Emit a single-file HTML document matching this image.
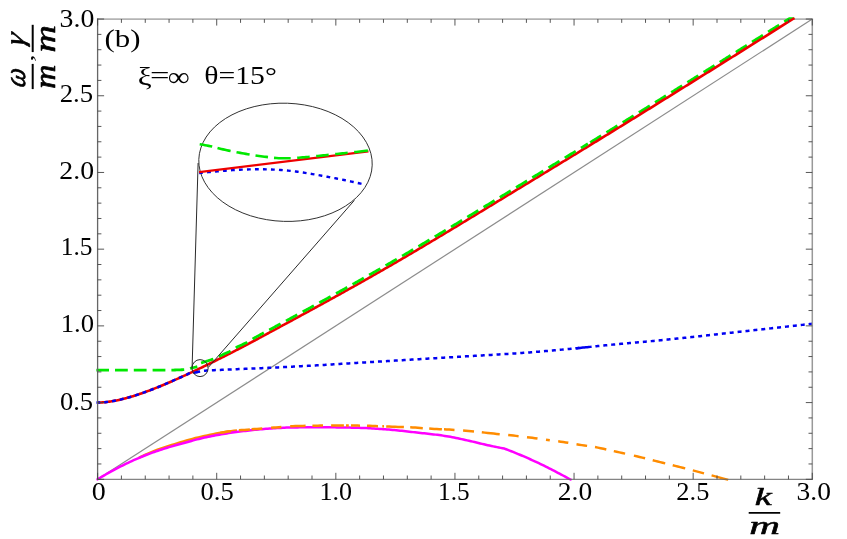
<!DOCTYPE html>
<html><head><meta charset="utf-8"><title>plot</title>
<style>
html,body{margin:0;padding:0;background:#fff;}
svg{display:block;}
text{font-family:"Liberation Serif",serif;fill:#000;}
.tl text{font-size:25px;}
.bi{font-family:"Liberation Serif",serif;font-weight:bold;font-style:italic;}
</style></head><body>
<svg width="847" height="539" viewBox="0 0 847 539">
<rect width="847" height="539" fill="#fff"/>
<defs><clipPath id="cp"><rect x="96.19999999999999" y="17.2" width="717.0999999999999" height="463.6"/></clipPath></defs>
<!-- frame (top/right, under curves) -->
<path d="M97.6,19.05 H813.0999999999999" stroke="#b4b4b4" stroke-width="1.7" fill="none"/>
<!-- light cone -->
<path d="M97.6,479.3 L812.3,19.05" stroke="#8c8c8c" stroke-width="1.2" fill="none"/>
<!-- curves -->
<g clip-path="url(#cp)" fill="none" stroke-linejoin="round">
<path d="M139.00,457.69 L141.97,456.28 L144.94,454.93 L147.91,453.62 L150.88,452.37 L153.85,451.16 L156.82,450.00 L159.79,448.90 L162.76,447.86 L165.73,446.87 L168.70,445.92 L171.67,444.99 L174.64,444.09 L177.61,443.19 L180.58,442.29 L183.55,441.39 L186.52,440.51 L189.48,439.66 L192.45,438.85 L195.42,438.07 L198.39,437.35 L201.36,436.69 L204.33,436.04 L207.30,435.41 L210.27,434.79 L213.24,434.18 L216.21,433.60 L219.18,433.05 L222.15,432.53 L225.12,432.04 L228.09,431.58 L231.06,431.17 L234.03,430.80 L237.00,430.48" stroke="#ff8c00" stroke-width="2.5"/>
<path d="M96.40,479.96 L98.26,478.90 L100.13,477.77 L101.99,476.66 L103.85,475.56 L105.72,474.48 L107.58,473.42 L109.44,472.37 L111.30,471.34 L113.17,470.32 L115.03,469.33 L116.89,468.35 L118.76,467.38 L120.62,466.44 L122.48,465.51 L124.35,464.60 L126.21,463.70 L128.07,462.81 L129.93,461.93 L131.80,461.07 L133.66,460.22 L135.52,459.39 L137.39,458.58 L139.25,457.78 L141.11,457.00 L142.98,456.24 L144.84,455.50 L146.70,454.78 L148.56,454.07 L150.43,453.38 L152.29,452.70 L154.15,452.03 L156.02,451.38 L157.88,450.74 L159.74,450.11 L161.61,449.50 L163.47,448.89 L165.33,448.30 L167.19,447.72 L169.06,447.15 L170.92,446.60 L172.78,446.08 L174.65,445.57 L176.51,445.07 L178.37,444.57 L180.24,444.06 L182.10,443.55 L183.96,443.03 L185.82,442.50 L187.69,441.97 L189.55,441.45 L191.41,440.93 L193.28,440.41 L195.14,439.90 L197.00,439.41 L198.87,438.93 L200.73,438.46 L202.59,438.01 L204.45,437.58 L206.32,437.18 L208.18,436.80 L210.04,436.42 L211.91,436.05 L213.77,435.69 L215.63,435.34 L217.50,435.00 L219.36,434.67 L221.22,434.34 L223.08,434.02 L224.95,433.72 L226.81,433.42 L228.67,433.13 L230.54,432.85 L232.40,432.58 L234.26,432.32 L236.13,432.06 L237.99,431.82 L239.85,431.58 L241.72,431.35 L243.58,431.12 L245.44,430.89 L247.30,430.67 L249.17,430.45 L251.03,430.24 L252.89,430.04 L254.76,429.84 L256.62,429.66 L258.48,429.48 L260.35,429.31 L262.21,429.15 L264.07,429.00 L265.93,428.87 L267.80,428.74 L269.66,428.61 L271.52,428.49 L273.39,428.36 L275.25,428.24 L277.11,428.12 L278.98,428.00 L280.84,427.89 L282.70,427.79 L284.56,427.70 L286.43,427.62 L288.29,427.54 L290.15,427.48 L292.02,427.44 L293.88,427.41 L295.74,427.40 L297.61,427.38 L299.47,427.37 L301.33,427.36 L303.19,427.35 L305.06,427.35 L306.92,427.34 L308.78,427.33 L310.65,427.32 L312.51,427.32 L314.37,427.31 L316.24,427.31 L318.10,427.31 L319.96,427.30 L321.82,427.30 L323.69,427.30 L325.55,427.30 L327.41,427.30 L329.28,427.31 L331.14,427.32 L333.00,427.34 L334.87,427.35 L336.73,427.38 L338.59,427.40 L340.45,427.43 L342.32,427.46 L344.18,427.49 L346.04,427.52 L347.91,427.56 L349.77,427.59 L351.63,427.63 L353.50,427.67 L355.36,427.71 L357.22,427.75 L359.08,427.81 L360.95,427.88 L362.81,427.95 L364.67,428.03 L366.54,428.12 L368.40,428.22 L370.26,428.32 L372.13,428.43 L373.99,428.55 L375.85,428.66 L377.72,428.78 L379.58,428.91 L381.44,429.03 L383.30,429.16 L385.17,429.29 L387.03,429.43 L388.89,429.58 L390.76,429.74 L392.62,429.91 L394.48,430.08 L396.35,430.27 L398.21,430.46 L400.07,430.66 L401.93,430.86 L403.80,431.07 L405.66,431.28 L407.52,431.49 L409.39,431.70 L411.25,431.91 L413.11,432.12 L414.98,432.33 L416.84,432.53 L418.70,432.73 L420.56,432.93 L422.43,433.14 L424.29,433.34 L426.15,433.54 L428.02,433.75 L429.88,433.96 L431.74,434.18 L433.61,434.40 L435.47,434.63 L437.33,434.86 L439.19,435.11 L441.06,435.36 L442.92,435.63 L444.78,435.91 L446.65,436.20 L448.51,436.51 L450.37,436.85 L452.24,437.20 L454.10,437.56 L455.96,437.94 L457.82,438.33 L459.69,438.73 L461.55,439.13 L463.41,439.54 L465.28,439.96 L467.14,440.37 L469.00,440.78 L470.87,441.19 L472.73,441.62 L474.59,442.06 L476.45,442.51 L478.32,442.97 L480.18,443.42 L482.04,443.87 L483.91,444.32 L485.77,444.75 L487.63,445.16 L489.50,445.57 L491.36,445.97 L493.22,446.36 L495.08,446.75 L496.95,447.13 L498.81,447.51 L500.67,447.88 L502.54,448.24 L504.40,448.60 L506.12,449.25 L507.85,449.91 L509.57,450.58 L511.29,451.25 L513.02,451.94 L514.74,452.63 L516.46,453.33 L518.18,454.04 L519.91,454.76 L521.63,455.49 L523.35,456.22 L525.08,456.96 L526.80,457.71 L528.52,458.48 L530.25,459.25 L531.97,460.03 L533.69,460.81 L535.42,461.61 L537.14,462.42 L538.86,463.23 L540.58,464.05 L542.31,464.89 L544.03,465.74 L545.75,466.59 L547.48,467.46 L549.20,468.33 L550.92,469.21 L552.65,470.10 L554.37,470.98 L556.09,471.88 L557.82,472.78 L559.54,473.68 L561.26,474.59 L562.98,475.51 L564.71,476.44 L566.43,477.37 L568.15,478.31 L569.88,479.25 L571.60,480.20" stroke="#ff00ff" stroke-width="2.5"/>
<path d="M220.10,432.88 L222.82,432.41 L225.55,431.97 L228.28,431.55 L231.00,431.18 M238.90,430.31 L241.65,430.10 L244.40,429.88 L247.15,429.66 L249.90,429.44 M251.60,429.30 L254.28,429.09 L256.95,428.88 L259.62,428.67 L262.30,428.46 M271.10,427.78 L273.68,427.58 L276.25,427.39 L278.82,427.18 L281.40,426.96 M290.20,426.31 L292.77,426.20 L295.33,426.12 L297.90,426.04 L300.47,425.97 L303.03,425.90 L305.60,425.84 M312.40,425.71 L315.05,425.67 L317.70,425.64 L320.35,425.62 L323.00,425.60 M331.10,425.60 L333.66,425.60 L336.22,425.60 L338.78,425.60 L341.34,425.60 L343.90,425.60 M346.00,425.60 L347.40,425.60 L348.80,425.60 M351.00,425.60 L353.25,425.60 L355.50,425.60 L357.75,425.61 L360.00,425.63 M367.00,425.78 L369.75,425.86 L372.50,425.95 L375.25,426.04 L378.00,426.15 M382.30,426.32 L383.15,426.36 L384.00,426.39 M386.20,426.48 L389.15,426.60 L392.10,426.71 L395.05,426.81 L398.00,426.91 L400.95,427.01 L403.90,427.12 M410.20,427.37 L412.72,427.49 L415.24,427.62 L417.76,427.77 L420.28,427.95 L422.80,428.13 M429.20,428.61 L431.74,428.78 L434.28,428.93 L436.82,429.07 L439.36,429.18 L441.90,429.28 M444.00,429.36 L446.62,429.47 L449.25,429.60 L451.88,429.74 L454.50,429.89 M463.10,430.48 L465.83,430.68 L468.55,430.90 L471.27,431.15 L474.00,431.42 M481.80,432.29 L484.78,432.63 L487.77,432.97 L490.75,433.29 L493.73,433.60 L496.72,433.90 L499.70,434.20 M508.20,435.04 L510.80,435.31 L513.40,435.59 L516.00,435.87 L518.60,436.16 M527.00,437.14 L529.62,437.46 L532.25,437.79 L534.88,438.15 L537.50,438.53 M546.00,439.79 L547.90,440.05 L549.80,440.30 M558.20,441.33 L560.73,441.65 L563.25,442.01 L565.77,442.40 L568.30,442.83 M576.50,444.29 L579.15,444.72 L581.80,445.12 L584.45,445.50 L587.10,445.87 M595.00,447.10 L597.83,447.62 L600.65,448.19 L603.47,448.80 L606.30,449.42 M613.80,451.12 L616.62,451.75 L619.45,452.37 L622.27,453.00 L625.10,453.63 M633.90,455.64 L636.70,456.30 L639.50,456.96 L642.30,457.63 L645.10,458.32 M652.70,460.22 L655.20,460.86 L657.70,461.50 L660.20,462.13 L662.70,462.77 L665.20,463.40 M672.70,465.27 L675.20,465.90 L677.70,466.52 L680.20,467.14 L682.70,467.77 L685.20,468.40 M692.80,470.36 L695.60,471.10 L698.40,471.85 L701.20,472.59 L704.00,473.35 M711.60,475.40 L714.37,476.15 L717.13,476.89 L719.90,477.64 L722.67,478.39 L725.43,479.15 L728.20,479.90" stroke="#ff8c00" stroke-width="2.5"/>
<path d="M590.20,142.51 L591.25,141.87 L592.31,141.22 L593.36,140.58 L594.42,139.93 L595.47,139.28 L596.53,138.64 L597.58,137.99 L598.63,137.35 L599.69,136.70 L600.74,136.05 L601.80,135.41 L602.85,134.76 L603.91,134.11 L604.96,133.47 L606.01,132.82 L607.07,132.17 L608.12,131.52 L609.18,130.88 L610.23,130.23 L611.29,129.58 L612.34,128.93 L613.39,128.29 L614.45,127.64 L615.50,126.99 L616.56,126.34 L617.61,125.69 L618.67,125.04 L619.72,124.39 L620.77,123.75 L621.83,123.10 L622.88,122.45 L623.94,121.80 L624.99,121.15 L626.05,120.50 L627.10,119.85 L628.15,119.20 L629.21,118.55 L630.26,117.90 L631.32,117.25 L632.37,116.60 L633.43,115.94 L634.48,115.29 L635.53,114.64 L636.59,113.99 L637.64,113.34 L638.70,112.69 L639.75,112.04 L640.81,111.38 L641.86,110.73 L642.91,110.08 L643.97,109.43 L645.02,108.77 L646.08,108.12 L647.13,107.47 L648.18,106.82 L649.24,106.16 L650.29,105.51 L651.35,104.86 L652.40,104.20 L653.46,103.55 L654.51,102.90 L655.56,102.24 L656.62,101.59 L657.67,100.93 L658.73,100.28 L659.78,99.63 L660.84,98.97 L661.89,98.32 L662.94,97.66 L664.00,97.01 L665.05,96.35 L666.11,95.70 L667.16,95.04 L668.22,94.39 L669.27,93.73 L670.32,93.08 L671.38,92.42 L672.43,91.77 L673.49,91.11 L674.54,90.46 L675.60,89.80 L676.65,89.14 L677.70,88.49 L678.76,87.83 L679.81,87.18 L680.87,86.52 L681.92,85.86 L682.98,85.21 L684.03,84.55 L685.08,83.89 L686.14,83.24 L687.19,82.58 L688.25,81.92 L689.30,81.27 L690.36,80.61 L691.41,79.95 L692.46,79.30 L693.52,78.64 L694.57,77.98 L695.63,77.32 L696.68,76.67 L697.74,76.01 L698.79,75.35 L699.84,74.69 L700.90,74.04 L701.95,73.38 L703.01,72.72 L704.06,72.06 L705.12,71.40 L706.17,70.75 L707.22,70.09 L708.28,69.43 L709.33,68.77 L710.39,68.11 L711.44,67.46 L712.50,66.80 L713.55,66.14 L714.60,65.48 L715.66,64.82 L716.71,64.16 L717.77,63.50 L718.82,62.85 L719.88,62.19 L720.93,61.53 L721.98,60.87 L723.04,60.21 L724.09,59.55 L725.15,58.89 L726.20,58.23 L727.26,57.57 L728.31,56.91 L729.36,56.25 L730.42,55.59 L731.47,54.94 L732.53,54.28 L733.58,53.62 L734.64,52.96 L735.69,52.30 L736.74,51.64 L737.80,50.98 L738.85,50.32 L739.91,49.66 L740.96,49.00 L742.02,48.34 L743.07,47.68 L744.12,47.02 L745.18,46.36 L746.23,45.70 L747.29,45.04 L748.34,44.38 L749.39,43.72 L750.45,43.06 L751.50,42.40 L752.56,41.74 L753.61,41.08 L754.67,40.41 L755.72,39.75 L756.77,39.09 L757.83,38.43 L758.88,37.77 L759.94,37.11 L760.99,36.45 L762.05,35.79 L763.10,35.13 L764.15,34.47 L765.21,33.81 L766.26,33.15 L767.32,32.49 L768.37,31.83 L769.43,31.16 L770.48,30.50 L771.53,29.84 L772.59,29.18 L773.64,28.52 L774.70,27.86 L775.75,27.20 L776.81,26.54 L777.86,25.88 L778.91,25.21 L779.97,24.55 L781.02,23.89 L782.08,23.23 L783.13,22.57 L784.19,21.91 L785.24,21.25 L786.29,20.59 L787.35,19.92 L788.40,19.26 L789.46,18.60 L790.51,17.94 L791.57,17.28 L792.62,16.62 L793.67,15.96 L794.73,15.29 L795.78,14.63 L796.84,13.97 L797.89,13.31" stroke="#00e800" stroke-width="2.9" stroke-dasharray="12.9 6.15"/>
<path d="M97.60,402.59 L98.78,402.57 L99.96,402.54 L101.14,402.48 L102.32,402.40 L103.51,402.31 L104.69,402.21 L105.87,402.09 L107.05,401.95 L108.23,401.81 L109.41,401.64 L110.59,401.47 L111.77,401.28 L112.96,401.09 L114.14,400.88 L115.32,400.65 L116.50,400.42 L117.68,400.18 L118.86,399.92 L120.04,399.66 L121.22,399.38 L122.41,399.10 L123.59,398.81 L124.77,398.50 L125.95,398.19 L127.13,397.87 L128.31,397.54 L129.49,397.20 L130.67,396.86 L131.86,396.51 L133.04,396.15 L134.22,395.78 L135.40,395.40 L136.58,395.02 L137.76,394.63 L138.94,394.24 L140.12,393.84 L141.30,393.43 L142.49,393.02 L143.67,392.60 L144.85,392.18 L146.03,391.75 L147.21,391.31 L148.39,390.87 L149.57,390.43 L150.75,389.98 L151.94,389.52 L153.12,389.06 L154.30,388.60 L155.48,388.13 L156.66,387.66 L157.84,387.18 L159.02,386.70 L160.20,386.22 L161.39,385.73 L162.57,385.24 L163.75,384.75 L164.93,384.25 L166.11,383.75 L167.29,383.25 L168.47,382.74 L169.65,382.23 L170.83,381.72 L172.02,381.20 L173.20,380.68 L174.38,380.16 L175.56,379.64 L176.74,379.11 L177.92,378.58 L179.10,378.05 L180.28,377.51 L181.47,376.98 L182.65,376.44 L183.83,375.90 L185.01,375.36 L186.19,374.81 L187.37,374.26 L188.55,373.71 L189.73,373.16 L190.92,372.61 L192.10,372.06 L193.28,371.50 L194.46,370.94 L195.64,370.38 L196.82,369.82 L198.00,369.26 L199.18,368.69 L200.37,368.12 L201.55,367.56 L202.73,366.99 L203.91,366.41 L205.09,365.84 L206.27,365.27 L207.45,364.69 L208.63,364.11 L209.81,363.53 L211.00,362.95 L212.18,362.37 L213.36,361.79 L214.54,361.21 L215.72,360.62 L216.90,360.03 L218.08,359.45 L219.26,358.86 L220.45,358.27 L221.63,357.68 L222.81,357.08 L223.99,356.49 L225.17,355.90 L226.35,355.30 L227.53,354.70 L228.71,354.10 L229.90,353.50 L231.08,352.90 L232.26,352.30 L233.44,351.69 L234.62,351.08 L235.80,350.47 L236.98,349.86 L238.16,349.24 L239.34,348.63 L240.53,348.01 L241.71,347.39 L242.89,346.77 L244.07,346.15 L245.25,345.52 L246.43,344.90 L247.61,344.27 L248.79,343.65 L249.98,343.02 L251.16,342.39 L252.34,341.76 L253.52,341.13 L254.70,340.49 L255.88,339.86 L257.06,339.23 L258.24,338.59 L259.43,337.96 L260.61,337.32 L261.79,336.69 L262.97,336.05 L264.15,335.41 L265.33,334.77 L266.51,334.14 L267.69,333.50 L268.88,332.86 L270.06,332.22 L271.24,331.58 L272.42,330.95 L273.60,330.31 L274.78,329.67 L275.96,329.03 L277.14,328.39 L278.32,327.75 L279.51,327.12 L280.69,326.48 L281.87,325.84 L283.05,325.20 L284.23,324.57 L285.41,323.93 L286.59,323.29 L287.77,322.65 L288.96,322.02 L290.14,321.38 L291.32,320.74 L292.50,320.10 L293.68,319.46 L294.86,318.82 L296.04,318.18 L297.22,317.54 L298.41,316.90 L299.59,316.26 L300.77,315.62 L301.95,314.98 L303.13,314.34 L304.31,313.70 L305.49,313.06 L306.67,312.41 L307.85,311.77 L309.04,311.13 L310.22,310.48 L311.40,309.84 L312.58,309.20 L313.76,308.55 L314.94,307.91 L316.12,307.26 L317.30,306.62 L318.49,305.97 L319.67,305.32 L320.85,304.68 L322.03,304.03 L323.21,303.38 L324.39,302.73 L325.57,302.08 L326.75,301.43 L327.94,300.78 L329.12,300.13 L330.30,299.48 L331.48,298.83 L332.66,298.18 L333.84,297.52 L335.02,296.87 L336.20,296.22 L337.39,295.56 L338.57,294.91 L339.75,294.25 L340.93,293.60 L342.11,292.94 L343.29,292.28 L344.47,291.63 L345.65,290.97 L346.83,290.31 L348.02,289.65 L349.20,288.99 L350.38,288.33 L351.56,287.67 L352.74,287.01 L353.92,286.35 L355.10,285.68 L356.28,285.02 L357.47,284.36 L358.65,283.69 L359.83,283.03 L361.01,282.36 L362.19,281.69 L363.37,281.03 L364.55,280.36 L365.73,279.69 L366.92,279.02 L368.10,278.35 L369.28,277.68 L370.46,277.01 L371.64,276.34 L372.82,275.67 L374.00,274.99 L375.18,274.32 L376.36,273.65 L377.55,272.97 L378.73,272.30 L379.91,271.62 L381.09,270.94 L382.27,270.27 L383.45,269.59 L384.63,268.91 L385.81,268.23 L387.00,267.55 L388.18,266.87 L389.36,266.19 L390.54,265.51 L391.72,264.82 L392.90,264.14 L394.08,263.45 L395.26,262.77 L396.45,262.08 L397.63,261.40 L398.81,260.71 L399.99,260.02 L401.17,259.33 L402.35,258.64 L403.53,257.95 L404.71,257.26 L405.90,256.57 L407.08,255.88 L408.26,255.19 L409.44,254.49 L410.62,253.80 L411.80,253.11 L412.98,252.41 L414.16,251.71 L415.34,251.02 L416.53,250.32 L417.71,249.62 L418.89,248.92 L420.07,248.22 L421.25,247.52 L422.43,246.82 L423.61,246.12 L424.79,245.42 L425.98,244.72 L427.16,244.01 L428.34,243.31 L429.52,242.61 L430.70,241.90 L431.88,241.20 L433.06,240.49 L434.24,239.78 L435.43,239.08 L436.61,238.37 L437.79,237.66 L438.97,236.96 L440.15,236.25 L441.33,235.54 L442.51,234.83 L443.69,234.12 L444.87,233.41 L446.06,232.70 L447.24,231.99 L448.42,231.28 L449.60,230.57 L450.78,229.86 L451.96,229.15 L453.14,228.43 L454.32,227.72 L455.51,227.01 L456.69,226.29 L457.87,225.58 L459.05,224.87 L460.23,224.15 L461.41,223.44 L462.59,222.73 L463.77,222.01 L464.96,221.30 L466.14,220.58 L467.32,219.87 L468.50,219.15 L469.68,218.43 L470.86,217.72 L472.04,217.00 L473.22,216.29 L474.41,215.57 L475.59,214.85 L476.77,214.14 L477.95,213.42 L479.13,212.70 L480.31,211.99 L481.49,211.27 L482.67,210.55 L483.85,209.83 L485.04,209.12 L486.22,208.40 L487.40,207.68 L488.58,206.96 L489.76,206.24 L490.94,205.53 L492.12,204.81 L493.30,204.09 L494.49,203.37 L495.67,202.65 L496.85,201.94 L498.03,201.22 L499.21,200.50 L500.39,199.78 L501.57,199.06 L502.75,198.34 L503.94,197.63 L505.12,196.91 L506.30,196.19 L507.48,195.47 L508.66,194.75 L509.84,194.03 L511.02,193.32 L512.20,192.60 L513.38,191.88 L514.57,191.16 L515.75,190.44 L516.93,189.73 L518.11,189.01 L519.29,188.29 L520.47,187.57 L521.65,186.85 L522.83,186.14 L524.02,185.42 L525.20,184.70 L526.38,183.98 L527.56,183.27 L528.74,182.55 L529.92,181.83 L531.10,181.12 L532.28,180.40 L533.47,179.68 L534.65,178.96 L535.83,178.25 L537.01,177.53 L538.19,176.81 L539.37,176.09 L540.55,175.38 L541.73,174.66 L542.92,173.94 L544.10,173.22 L545.28,172.51 L546.46,171.79 L547.64,171.07 L548.82,170.35 L550.00,169.63 L551.18,168.91 L552.36,168.19 L553.55,167.48 L554.73,166.76 L555.91,166.04 L557.09,165.32 L558.27,164.60 L559.45,163.88 L560.63,163.16 L561.81,162.44 L563.00,161.72 L564.18,161.00 L565.36,160.28 L566.54,159.56 L567.72,158.84 L568.90,158.12 L570.08,157.40 L571.26,156.68 L572.45,155.96 L573.63,155.24 L574.81,154.52 L575.99,153.80 L577.17,153.08 L578.35,152.36 L579.53,151.63 L580.71,150.91 L581.89,150.19 L583.08,149.47 L584.26,148.75 L585.44,148.02 L586.62,147.30 L587.80,146.58 L588.98,145.86 L590.16,145.13 L591.34,144.41 L592.53,143.69 L593.71,142.96 L594.89,142.24 L596.07,141.52 L597.25,140.79 L598.43,140.07 L599.61,139.35 L600.79,138.62 L601.98,137.90 L603.16,137.17 L604.34,136.45 L605.52,135.72 L606.70,135.00 L607.88,134.27 L609.06,133.55 L610.24,132.82 L611.43,132.10 L612.61,131.37 L613.79,130.64 L614.97,129.92 L616.15,129.19 L617.33,128.46 L618.51,127.74 L619.69,127.01 L620.87,126.28 L622.06,125.56 L623.24,124.83 L624.42,124.10 L625.60,123.37 L626.78,122.64 L627.96,121.92 L629.14,121.19 L630.32,120.46 L631.51,119.73 L632.69,119.00 L633.87,118.27 L635.05,117.54 L636.23,116.81 L637.41,116.08 L638.59,115.35 L639.77,114.62 L640.96,113.89 L642.14,113.16 L643.32,112.43 L644.50,111.70 L645.68,110.97 L646.86,110.24 L648.04,109.50 L649.22,108.77 L650.40,108.04 L651.59,107.31 L652.77,106.58 L653.95,105.84 L655.13,105.11 L656.31,104.38 L657.49,103.65 L658.67,102.91 L659.85,102.18 L661.04,101.45 L662.22,100.71 L663.40,99.98 L664.58,99.25 L665.76,98.51 L666.94,97.78 L668.12,97.05 L669.30,96.31 L670.49,95.58 L671.67,94.84 L672.85,94.11 L674.03,93.37 L675.21,92.64 L676.39,91.90 L677.57,91.17 L678.75,90.43 L679.94,89.70 L681.12,88.96 L682.30,88.23 L683.48,87.49 L684.66,86.76 L685.84,86.02 L687.02,85.29 L688.20,84.55 L689.38,83.81 L690.57,83.08 L691.75,82.34 L692.93,81.61 L694.11,80.87 L695.29,80.13 L696.47,79.40 L697.65,78.66 L698.83,77.92 L700.02,77.19 L701.20,76.45 L702.38,75.71 L703.56,74.98 L704.74,74.24 L705.92,73.50 L707.10,72.76 L708.28,72.03 L709.47,71.29 L710.65,70.55 L711.83,69.81 L713.01,69.08 L714.19,68.34 L715.37,67.60 L716.55,66.86 L717.73,66.12 L718.91,65.39 L720.10,64.65 L721.28,63.91 L722.46,63.17 L723.64,62.43 L724.82,61.69 L726.00,60.96 L727.18,60.22 L728.36,59.48 L729.55,58.74 L730.73,58.00 L731.91,57.26 L733.09,56.52 L734.27,55.78 L735.45,55.05 L736.63,54.31 L737.81,53.57 L739.00,52.83 L740.18,52.09 L741.36,51.35 L742.54,50.61 L743.72,49.87 L744.90,49.13 L746.08,48.39 L747.26,47.65 L748.45,46.91 L749.63,46.17 L750.81,45.43 L751.99,44.69 L753.17,43.95 L754.35,43.21 L755.53,42.47 L756.71,41.73 L757.89,40.99 L759.08,40.25 L760.26,39.51 L761.44,38.77 L762.62,38.03 L763.80,37.29 L764.98,36.55 L766.16,35.81 L767.34,35.07 L768.53,34.33 L769.71,33.59 L770.89,32.85 L772.07,32.11 L773.25,31.37 L774.43,30.63 L775.61,29.89 L776.79,29.14 L777.98,28.40 L779.16,27.66 L780.34,26.92 L781.52,26.18 L782.70,25.44 L783.88,24.70 L785.06,23.96 L786.24,23.22 L787.42,22.48 L788.61,21.74 L789.79,20.99 L790.97,20.25 L792.15,19.51 L793.33,18.77 L794.51,18.03" stroke="#ee0000" stroke-width="2.6"/>
<path d="M96.20,370.20 L97.91,370.20 L99.63,370.20 L101.34,370.20 L103.05,370.20 L104.77,370.20 L106.48,370.20 L108.19,370.20 L109.91,370.20 L111.62,370.20 L113.34,370.20 L115.05,370.20 L116.76,370.20 L118.48,370.20 L120.19,370.20 L121.90,370.20 L123.62,370.20 L125.33,370.20 L127.04,370.20 L128.76,370.20 L130.47,370.20 L132.18,370.20 L133.90,370.20 L135.61,370.20 L137.33,370.20 L139.04,370.20 L140.75,370.20 L142.47,370.20 L144.18,370.20 L145.89,370.20 L147.61,370.19 L149.32,370.19 L151.03,370.19 L152.75,370.18 L154.46,370.18 L156.17,370.17 L157.89,370.16 L159.60,370.16 L161.32,370.15 L163.03,370.14 L164.74,370.13 L166.46,370.12 L168.17,370.11 L169.88,370.10 L171.60,370.08 L173.31,370.06 L175.02,370.02 L176.74,369.97 L178.45,369.91 L180.16,369.84 L181.88,369.75 L183.59,369.65 L185.31,369.53 L187.02,369.30 L188.73,368.85 L190.45,368.34 L192.16,367.92 L193.87,367.50 L195.59,367.09 L197.30,366.68" stroke="#00e800" stroke-width="2.8" stroke-dasharray="12.8 6"/>
<path d="M201.05,363.00 L202.23,362.63 L203.40,362.26 L204.58,361.88 L205.75,361.50 L206.93,361.12 L208.11,360.75 L209.28,360.37 L210.46,360.00 L211.63,359.61 L212.81,359.19 L213.98,358.73 L215.16,358.21 L216.34,357.66 L217.51,357.10 L218.69,356.54 L219.86,356.01 L221.04,355.47 L222.22,354.93 L223.39,354.39 L224.57,353.85 L225.74,353.31 L226.92,352.78 L228.09,352.25 L229.27,351.69 L230.45,351.08 L231.62,350.39 L232.80,349.61 L233.97,348.81 L235.15,348.06 L236.33,347.42 L237.50,346.84 L238.68,346.29 L239.85,345.76 L241.03,345.22 L242.20,344.67 L243.38,344.12 L244.56,343.56 L245.73,343.00 L246.91,342.41 L248.08,341.78 L249.26,341.10 L250.44,340.38 L251.61,339.64 L252.79,338.90 L253.96,338.18 L255.14,337.51 L256.31,336.88 L257.49,336.25 L258.67,335.62 L259.84,334.98 L261.02,334.35 L262.19,333.72 L263.37,333.08 L264.55,332.45 L265.72,331.81 L266.90,331.18 L268.07,330.54 L269.25,329.91 L270.42,329.27 L271.60,328.64 L272.78,328.00 L273.95,327.37 L275.13,326.73 L276.30,326.10 L277.48,325.46 L278.66,324.82 L279.83,324.19 L281.01,323.55 L282.18,322.92 L283.36,322.29 L284.53,321.65 L285.71,321.02 L286.89,320.38 L288.06,319.75 L289.24,319.11 L290.41,318.48 L291.59,317.84 L292.77,317.21 L293.94,316.57 L295.12,315.93 L296.29,315.30 L297.47,314.66 L298.64,314.02 L299.82,313.39 L301.00,312.75 L302.17,312.11 L303.35,311.47 L304.52,310.83 L305.70,310.19 L306.88,309.55 L308.05,308.91 L309.23,308.27 L310.40,307.63 L311.58,306.99 L312.75,306.35 L313.93,305.71 L315.11,305.07 L316.28,304.42 L317.46,303.78 L318.63,303.14 L319.81,302.49 L320.99,301.85 L322.16,301.21 L323.34,300.56 L324.51,299.91 L325.69,299.27 L326.86,298.62 L328.04,297.97 L329.22,297.33 L330.39,296.68 L331.57,296.03 L332.74,295.38 L333.92,294.73 L335.10,294.08 L336.27,293.43 L337.45,292.78 L338.62,292.13 L339.80,291.47 L340.97,290.82 L342.15,290.17 L343.33,289.51 L344.50,288.86 L345.68,288.21 L346.85,287.55 L348.03,286.89 L349.21,286.24 L350.38,285.58 L351.56,284.92 L352.73,284.26 L353.91,283.60 L355.08,282.94 L356.26,282.28 L357.44,281.62 L358.61,280.96 L359.79,280.30 L360.96,279.64 L362.14,278.97 L363.32,278.31 L364.49,277.64 L365.67,276.98 L366.84,276.31 L368.02,275.65 L369.19,274.98 L370.37,274.31 L371.55,273.64 L372.72,272.97 L373.90,272.30 L375.07,271.63 L376.25,270.96 L377.43,270.29 L378.60,269.62 L379.78,268.95 L380.95,268.27 L382.13,267.60 L383.30,266.92 L384.48,266.25 L385.66,265.57 L386.83,264.89 L388.01,264.22 L389.18,263.54 L390.36,262.86 L391.54,262.18 L392.71,261.50 L393.89,260.82 L395.06,260.14 L396.24,259.45 L397.41,258.77 L398.59,258.09 L399.77,257.40 L400.94,256.72 L402.12,256.03 L403.29,255.34 L404.47,254.66 L405.65,253.97 L406.82,253.28 L408.00,252.59 L409.17,251.90 L410.35,251.21 L411.52,250.52 L412.70,249.83 L413.88,249.13 L415.05,248.44 L416.23,247.74 L417.40,247.05 L418.58,246.35 L419.76,245.66 L420.93,244.96 L422.11,244.26 L423.28,243.57 L424.46,242.87 L425.63,242.17 L426.81,241.47 L427.99,240.77 L429.16,240.07 L430.34,239.37 L431.51,238.67 L432.69,237.96 L433.87,237.26 L435.04,236.56 L436.22,235.85 L437.39,235.15 L438.57,234.45 L439.74,233.74 L440.92,233.04 L442.10,232.33 L443.27,231.62 L444.45,230.92 L445.62,230.21 L446.80,229.50 L447.98,228.80 L449.15,228.09 L450.33,227.38 L451.50,226.67 L452.68,225.96 L453.85,225.25 L455.03,224.54 L456.21,223.83 L457.38,223.12 L458.56,222.41 L459.73,221.70 L460.91,220.99 L462.09,220.28 L463.26,219.57 L464.44,218.86 L465.61,218.15 L466.79,217.44 L467.96,216.72 L469.14,216.01 L470.32,215.30 L471.49,214.59 L472.67,213.87 L473.84,213.16 L475.02,212.45 L476.20,211.73 L477.37,211.02 L478.55,210.31 L479.72,209.59 L480.90,208.88 L482.07,208.16 L483.25,207.45 L484.43,206.74 L485.60,206.02 L486.78,205.31 L487.95,204.59 L489.13,203.88 L490.31,203.16 L491.48,202.45 L492.66,201.73 L493.83,201.02 L495.01,200.30 L496.18,199.59 L497.36,198.87 L498.54,198.16 L499.71,197.44 L500.89,196.73 L502.06,196.01 L503.24,195.30 L504.42,194.58 L505.59,193.87 L506.77,193.15 L507.94,192.44 L509.12,191.72 L510.29,191.01 L511.47,190.29 L512.65,189.58 L513.82,188.86 L515.00,188.15 L516.17,187.43 L517.35,186.72 L518.53,186.00 L519.70,185.29 L520.88,184.58 L522.05,183.86 L523.23,183.15 L524.40,182.43 L525.58,181.72 L526.76,181.00 L527.93,180.29 L529.11,179.58 L530.28,178.86 L531.46,178.15 L532.64,177.44 L533.81,176.72 L534.99,176.01 L536.16,175.29 L537.34,174.58 L538.51,173.86 L539.69,173.15 L540.87,172.44 L542.04,171.72 L543.22,171.01 L544.39,170.29 L545.57,169.58 L546.75,168.86 L547.92,168.15 L549.10,167.43 L550.27,166.72 L551.45,166.00 L552.62,165.29 L553.80,164.57 L554.98,163.86 L556.15,163.14 L557.33,162.42 L558.50,161.71 L559.68,160.99 L560.86,160.28 L562.03,159.56 L563.21,158.84 L564.38,158.13 L565.56,157.41 L566.73,156.69 L567.91,155.98 L569.09,155.26 L570.26,154.54 L571.44,153.82 L572.61,153.11 L573.79,152.39 L574.97,151.67 L576.14,150.95 L577.32,150.24 L578.49,149.52 L579.67,148.80 L580.84,148.08 L582.02,147.36 L583.20,146.64 L584.37,145.93 L585.55,145.21 L586.72,144.49 L587.90,143.77" stroke="#00e800" stroke-width="2.8" stroke-dasharray="12.9 6.1"/>
<g stroke="#0000f2" stroke-width="2.5">
<path d="M96.30,402.57 L97.44,402.59 L98.58,402.58 L99.71,402.54 L100.85,402.49 L101.99,402.43 L103.13,402.34 L104.27,402.25 L105.41,402.14 L106.54,402.01 L107.68,401.88 L108.82,401.73 L109.96,401.57 L111.10,401.39 L112.23,401.21 L113.37,401.01 L114.51,400.81 L115.65,400.59 L116.79,400.36 L117.93,400.12 L119.06,399.88 L120.20,399.62 L121.34,399.36 L122.48,399.08 L123.62,398.80 L124.76,398.51 L125.89,398.21 L127.03,397.90 L128.17,397.58 L129.31,397.26 L130.45,396.93 L131.58,396.59 L132.72,396.24 L133.86,395.89 L135.00,395.53 L136.14,395.17 L137.28,394.80 L138.41,394.42 L139.55,394.03 L140.69,393.64 L141.83,393.25 L142.97,392.85 L144.10,392.44 L145.24,392.03 L146.38,391.62 L147.52,391.20 L148.66,390.77 L149.80,390.34 L150.93,389.91 L152.07,389.47 L153.21,389.03 L154.35,388.58 L155.49,388.13 L156.62,387.67 L157.76,387.22 L158.90,386.75 L160.04,386.29 L161.18,385.82 L162.32,385.35 L163.45,384.87 L164.59,384.39 L165.73,383.91 L166.87,383.43 L168.01,382.94 L169.14,382.45 L170.28,381.96 L171.42,381.46 L172.56,380.96 L173.70,380.46 L174.84,379.96 L175.97,379.45 L177.11,378.94 L178.25,378.43 L179.39,377.92 L180.53,377.40 L181.67,376.89 L182.80,376.37 L183.94,375.85 L185.08,375.32 L186.22,374.80 L187.36,374.27 L188.49,373.74 L189.63,373.21 L190.77,372.68 L191.91,372.14 L193.05,372.54 L194.19,372.78 L195.32,372.55 L196.46,372.23 L197.60,371.98" stroke-dasharray="4 3.9"/>
<path d="M196.20,372.30 L197.48,372.00 L198.77,371.74 L200.05,371.50 L201.33,371.27 L202.61,371.04 L203.90,370.83 L205.18,370.67 L206.46,370.56 L207.75,370.48 L209.03,370.41 L210.31,370.35 L211.60,370.30 L212.88,370.25 L214.16,370.19 L215.44,370.12 L216.73,370.06 L218.01,370.00 L219.29,369.94 L220.58,369.88 L221.86,369.82 L223.14,369.76 L224.42,369.70 L225.71,369.65 L226.99,369.59 L228.27,369.54 L229.56,369.48 L230.84,369.43 L232.12,369.37 L233.41,369.32 L234.69,369.27 L235.97,369.21 L237.25,369.16 L238.54,369.11 L239.82,369.06 L241.10,369.00 L242.39,368.95 L243.67,368.90 L244.95,368.85 L246.23,368.79 L247.52,368.74 L248.80,368.69 L250.08,368.64 L251.37,368.59 L252.65,368.53 L253.93,368.48 L255.22,368.43 L256.50,368.37 L257.78,368.32 L259.06,368.26 L260.35,368.21 L261.63,368.15 L262.91,368.10 L264.20,368.04 L265.48,367.98 L266.76,367.92 L268.04,367.87 L269.33,367.81 L270.61,367.75 L271.89,367.69 L273.18,367.62 L274.46,367.56 L275.74,367.50 L277.03,367.44 L278.31,367.38 L279.59,367.31 L280.87,367.25 L282.16,367.18 L283.44,367.12 L284.72,367.06 L286.01,366.99 L287.29,366.92 L288.57,366.86 L289.85,366.79 L291.14,366.73 L292.42,366.66 L293.70,366.59 L294.99,366.52 L296.27,366.46 L297.55,366.39 L298.84,366.32 L300.12,366.25 L301.40,366.18 L302.68,366.11 L303.97,366.04 L305.25,365.97 L306.53,365.90 L307.82,365.83 L309.10,365.76 L310.38,365.69 L311.66,365.62 L312.95,365.55 L314.23,365.47 L315.51,365.40 L316.80,365.33 L318.08,365.25 L319.36,365.18 L320.65,365.10 L321.93,365.03 L323.21,364.95 L324.49,364.88 L325.78,364.80 L327.06,364.72 L328.34,364.64 L329.63,364.57 L330.91,364.49 L332.19,364.41 L333.47,364.33 L334.76,364.25 L336.04,364.17 L337.32,364.09 L338.61,364.02 L339.89,363.94 L341.17,363.86 L342.46,363.78 L343.74,363.70 L345.02,363.62 L346.30,363.54 L347.59,363.46 L348.87,363.39 L350.15,363.31 L351.44,363.23 L352.72,363.15 L354.00,363.08 L355.28,363.00 L356.57,362.92 L357.85,362.85 L359.13,362.77 L360.42,362.69 L361.70,362.61 L362.98,362.54 L364.27,362.46 L365.55,362.38 L366.83,362.31 L368.11,362.23 L369.40,362.15 L370.68,362.08 L371.96,362.00 L373.25,361.92 L374.53,361.84 L375.81,361.77 L377.09,361.69 L378.38,361.61 L379.66,361.54 L380.94,361.46 L382.23,361.38 L383.51,361.31 L384.79,361.23 L386.08,361.15 L387.36,361.07 L388.64,361.00 L389.92,360.92 L391.21,360.84 L392.49,360.77 L393.77,360.69 L395.06,360.61 L396.34,360.53 L397.62,360.46 L398.91,360.38 L400.19,360.30 L401.47,360.22 L402.75,360.15 L404.04,360.07 L405.32,359.99 L406.60,359.92 L407.89,359.84 L409.17,359.76 L410.45,359.68 L411.73,359.61 L413.02,359.53 L414.30,359.45 L415.58,359.37 L416.87,359.30 L418.15,359.22 L419.43,359.14 L420.72,359.07 L422.00,358.99 L423.28,358.91 L424.56,358.83 L425.85,358.76 L427.13,358.68 L428.41,358.60 L429.70,358.53 L430.98,358.45 L432.26,358.37 L433.54,358.29 L434.83,358.22 L436.11,358.14 L437.39,358.06 L438.68,357.99 L439.96,357.91 L441.24,357.83 L442.53,357.76 L443.81,357.68 L445.09,357.60 L446.37,357.52 L447.66,357.45 L448.94,357.37 L450.22,357.29 L451.51,357.22 L452.79,357.14 L454.07,357.06 L455.35,356.99 L456.64,356.91 L457.92,356.83 L459.20,356.76 L460.49,356.68 L461.77,356.60 L463.05,356.53 L464.34,356.45 L465.62,356.37 L466.90,356.30 L468.18,356.22 L469.47,356.15 L470.75,356.07 L472.03,356.00 L473.32,355.92 L474.60,355.85 L475.88,355.78 L477.16,355.70 L478.45,355.63 L479.73,355.56 L481.01,355.49 L482.30,355.41 L483.58,355.34 L484.86,355.27 L486.15,355.19 L487.43,355.12 L488.71,355.05 L489.99,354.97 L491.28,354.90 L492.56,354.83 L493.84,354.75 L495.13,354.68 L496.41,354.60 L497.69,354.53 L498.97,354.45 L500.26,354.37 L501.54,354.30 L502.82,354.22 L504.11,354.14 L505.39,354.06 L506.67,353.98 L507.96,353.90 L509.24,353.82 L510.52,353.74 L511.80,353.66 L513.09,353.57 L514.37,353.49 L515.65,353.40 L516.94,353.31 L518.22,353.23 L519.50,353.14 L520.78,353.04 L522.07,352.95 L523.35,352.86 L524.63,352.76 L525.92,352.67 L527.20,352.57 L528.48,352.47 L529.77,352.38 L531.05,352.28 L532.33,352.18 L533.61,352.07 L534.90,351.97 L536.18,351.87 L537.46,351.77 L538.75,351.66 L540.03,351.56 L541.31,351.45 L542.59,351.34 L543.88,351.23 L545.16,351.12 L546.44,351.01 L547.73,350.90 L549.01,350.79 L550.29,350.68 L551.58,350.56 L552.86,350.45 L554.14,350.33 L555.42,350.22 L556.71,350.10 L557.99,349.98 L559.27,349.86 L560.56,349.75 L561.84,349.63 L563.12,349.51 L564.40,349.39 L565.69,349.27 L566.97,349.15 L568.25,349.03 L569.54,348.90 L570.82,348.78 L572.10,348.66 L573.39,348.54 L574.67,348.42 L575.95,348.30 L577.23,348.17 L578.52,348.05 L579.80,347.92" stroke-dasharray="4 3.92"/>
<path d="M575.70,348.32 L577.15,348.18 L578.59,348.04 L580.04,347.90 L581.48,347.76 L582.93,347.61 L584.37,347.47 L585.82,347.32 L587.26,347.18 L588.71,347.03 L590.15,346.88 L591.60,346.73"/>
<path d="M595.40,346.34 L596.62,346.22 L597.83,346.09 L599.05,345.97 L600.27,345.84 L601.49,345.72 L602.70,345.59 L603.92,345.47 L605.14,345.35 L606.36,345.23 L607.57,345.11 L608.79,344.99 L610.01,344.87 L611.23,344.75 L612.44,344.63 L613.66,344.52 L614.88,344.40 L616.09,344.29 L617.31,344.18 L618.53,344.06 L619.75,343.95 L620.96,343.84 L622.18,343.73 L623.40,343.63 L624.62,343.52 L625.83,343.41 L627.05,343.30 L628.27,343.19 L629.48,343.09 L630.70,342.98 L631.92,342.87 L633.14,342.77 L634.35,342.66 L635.57,342.55 L636.79,342.45 L638.01,342.34 L639.22,342.23 L640.44,342.12 L641.66,342.01 L642.88,341.91 L644.09,341.80 L645.31,341.68 L646.53,341.57 L647.74,341.46 L648.96,341.35 L650.18,341.23 L651.40,341.12 L652.61,341.00 L653.83,340.89 L655.05,340.77 L656.27,340.65 L657.48,340.54 L658.70,340.42 L659.92,340.30 L661.14,340.18 L662.35,340.06 L663.57,339.94 L664.79,339.82 L666.00,339.70 L667.22,339.58 L668.44,339.46 L669.66,339.34 L670.87,339.22 L672.09,339.10 L673.31,338.97 L674.53,338.85 L675.74,338.73 L676.96,338.60 L678.18,338.48 L679.39,338.36 L680.61,338.23 L681.83,338.11 L683.05,337.98 L684.26,337.85 L685.48,337.73 L686.70,337.60 L687.92,337.47 L689.13,337.35 L690.35,337.22 L691.57,337.09 L692.79,336.96 L694.00,336.83 L695.22,336.70 L696.44,336.56 L697.65,336.43 L698.87,336.30 L700.09,336.16 L701.31,336.03 L702.52,335.89 L703.74,335.76 L704.96,335.62 L706.18,335.49 L707.39,335.35 L708.61,335.22 L709.83,335.08 L711.05,334.94 L712.26,334.81 L713.48,334.67 L714.70,334.53 L715.91,334.40 L717.13,334.26 L718.35,334.12 L719.57,333.99 L720.78,333.85 L722.00,333.71 L723.22,333.58 L724.44,333.44 L725.65,333.31 L726.87,333.18 L728.09,333.04 L729.31,332.91 L730.52,332.77 L731.74,332.64 L732.96,332.51 L734.17,332.37 L735.39,332.24 L736.61,332.11 L737.83,331.97 L739.04,331.84 L740.26,331.71 L741.48,331.57 L742.70,331.44 L743.91,331.31 L745.13,331.17 L746.35,331.04 L747.56,330.91 L748.78,330.77 L750.00,330.64 L751.22,330.51 L752.43,330.37 L753.65,330.24 L754.87,330.11 L756.09,329.97 L757.30,329.84 L758.52,329.71 L759.74,329.57 L760.96,329.44 L762.17,329.31 L763.39,329.17 L764.61,329.04 L765.82,328.90 L767.04,328.77 L768.26,328.64 L769.48,328.50 L770.69,328.37 L771.91,328.23 L773.13,328.10 L774.35,327.97 L775.56,327.83 L776.78,327.70 L778.00,327.56 L779.22,327.43 L780.43,327.30 L781.65,327.16 L782.87,327.03 L784.08,326.89 L785.30,326.76 L786.52,326.63 L787.74,326.49 L788.95,326.36 L790.17,326.22 L791.39,326.09 L792.61,325.95 L793.82,325.82 L795.04,325.69 L796.26,325.55 L797.47,325.42 L798.69,325.28 L799.91,325.15 L801.13,325.01 L802.34,324.88 L803.56,324.74 L804.78,324.61 L806.00,324.47 L807.21,324.34 L808.43,324.21 L809.65,324.07 L810.87,323.94 L812.08,323.80 L813.30,323.67" stroke-dasharray="4 3.94"/>
</g>
</g>
<!-- axes -->
<path d="M812.3,19.05 V479.3" stroke="#999" stroke-width="1.5" fill="none"/>
<path d="M97.6,18.25 V479.8" stroke="#666" stroke-width="1.3" fill="none"/>
<path d="M97.0,479.3 H813.0" stroke="#666" stroke-width="1.0" fill="none"/>
<path d="M97.60,479.3 v-6.5 M97.60,19.05 v6.5 M97.6,479.30 h6.5 M812.3,479.30 h-6.5 M121.42,479.3 v-3.8 M121.42,19.05 v3.8 M97.6,463.96 h3.8 M812.3,463.96 h-3.8 M145.25,479.3 v-3.8 M145.25,19.05 v3.8 M97.6,448.62 h3.8 M812.3,448.62 h-3.8 M169.07,479.3 v-3.8 M169.07,19.05 v3.8 M97.6,433.27 h3.8 M812.3,433.27 h-3.8 M192.89,479.3 v-3.8 M192.89,19.05 v3.8 M97.6,417.93 h3.8 M812.3,417.93 h-3.8 M216.71,479.3 v-6.5 M216.71,19.05 v6.5 M97.6,402.59 h6.5 M812.3,402.59 h-6.5 M240.54,479.3 v-3.8 M240.54,19.05 v3.8 M97.6,387.25 h3.8 M812.3,387.25 h-3.8 M264.36,479.3 v-3.8 M264.36,19.05 v3.8 M97.6,371.91 h3.8 M812.3,371.91 h-3.8 M288.18,479.3 v-3.8 M288.18,19.05 v3.8 M97.6,356.56 h3.8 M812.3,356.56 h-3.8 M312.01,479.3 v-3.8 M312.01,19.05 v3.8 M97.6,341.22 h3.8 M812.3,341.22 h-3.8 M335.83,479.3 v-6.5 M335.83,19.05 v6.5 M97.6,325.88 h6.5 M812.3,325.88 h-6.5 M359.65,479.3 v-3.8 M359.65,19.05 v3.8 M97.6,310.54 h3.8 M812.3,310.54 h-3.8 M383.48,479.3 v-3.8 M383.48,19.05 v3.8 M97.6,295.20 h3.8 M812.3,295.20 h-3.8 M407.30,479.3 v-3.8 M407.30,19.05 v3.8 M97.6,279.85 h3.8 M812.3,279.85 h-3.8 M431.12,479.3 v-3.8 M431.12,19.05 v3.8 M97.6,264.51 h3.8 M812.3,264.51 h-3.8 M454.94,479.3 v-6.5 M454.94,19.05 v6.5 M97.6,249.17 h6.5 M812.3,249.17 h-6.5 M478.77,479.3 v-3.8 M478.77,19.05 v3.8 M97.6,233.83 h3.8 M812.3,233.83 h-3.8 M502.59,479.3 v-3.8 M502.59,19.05 v3.8 M97.6,218.49 h3.8 M812.3,218.49 h-3.8 M526.41,479.3 v-3.8 M526.41,19.05 v3.8 M97.6,203.14 h3.8 M812.3,203.14 h-3.8 M550.24,479.3 v-3.8 M550.24,19.05 v3.8 M97.6,187.80 h3.8 M812.3,187.80 h-3.8 M574.06,479.3 v-6.5 M574.06,19.05 v6.5 M97.6,172.46 h6.5 M812.3,172.46 h-6.5 M597.88,479.3 v-3.8 M597.88,19.05 v3.8 M97.6,157.12 h3.8 M812.3,157.12 h-3.8 M621.71,479.3 v-3.8 M621.71,19.05 v3.8 M97.6,141.78 h3.8 M812.3,141.78 h-3.8 M645.53,479.3 v-3.8 M645.53,19.05 v3.8 M97.6,126.43 h3.8 M812.3,126.43 h-3.8 M669.35,479.3 v-3.8 M669.35,19.05 v3.8 M97.6,111.09 h3.8 M812.3,111.09 h-3.8 M693.17,479.3 v-6.5 M693.17,19.05 v6.5 M97.6,95.75 h6.5 M812.3,95.75 h-6.5 M717.00,479.3 v-3.8 M717.00,19.05 v3.8 M97.6,80.41 h3.8 M812.3,80.41 h-3.8 M740.82,479.3 v-3.8 M740.82,19.05 v3.8 M97.6,65.07 h3.8 M812.3,65.07 h-3.8 M764.64,479.3 v-3.8 M764.64,19.05 v3.8 M97.6,49.72 h3.8 M812.3,49.72 h-3.8 M788.47,479.3 v-3.8 M788.47,19.05 v3.8 M97.6,34.38 h3.8 M812.3,34.38 h-3.8 M812.29,479.3 v-6.5 M812.29,19.05 v6.5 M97.6,19.04 h6.5 M812.3,19.04 h-6.5" stroke="#444" stroke-width="0.9" fill="none"/>
<!-- inset -->
<ellipse cx="285.5" cy="162.3" rx="86.75" ry="59.1" transform="rotate(1.9 285.5 162.3)" fill="none" stroke="#2a2a2a" stroke-width="0.95"/>
<ellipse cx="200.05" cy="368.1" rx="8.1" ry="8.5" fill="none" stroke="#2a2a2a" stroke-width="1.0"/>
<path d="M198.1,163 L192.1,367.5 M354.3,200.4 L208.4,367.3" stroke="#2a2a2a" stroke-width="1.0" fill="none"/>
<path d="M199.10,173.00 L200.96,172.81 L202.82,172.63 L204.68,172.45 L206.53,172.28 L208.39,172.10 L210.25,171.93 L212.11,171.76 L213.97,171.60 L215.83,171.43 L217.68,171.28 L219.54,171.12 L221.40,170.97 L223.26,170.82 L225.12,170.68 L226.98,170.55 L228.83,170.42 L230.69,170.29 L232.55,170.17 L234.41,170.06 L236.27,169.95 L238.13,169.85 L239.99,169.76 L241.84,169.67 L243.70,169.60 L245.56,169.53 L247.42,169.46 L249.28,169.41 L251.14,169.36 L252.99,169.33 L254.85,169.30 L256.71,169.28 L258.57,169.27 L260.43,169.27 L262.29,169.29 L264.14,169.31 L266.00,169.34 L267.86,169.39 L269.72,169.44 L271.58,169.51 L273.44,169.59 L275.30,169.68 L277.15,169.78 L279.01,169.90 L280.87,170.02 L282.73,170.17 L284.59,170.32 L286.45,170.49 L288.30,170.67 L290.16,170.87 L292.02,171.08 L293.88,171.30 L295.74,171.53 L297.60,171.77 L299.46,172.03 L301.31,172.29 L303.17,172.56 L305.03,172.85 L306.89,173.14 L308.75,173.44 L310.61,173.74 L312.46,174.06 L314.32,174.38 L316.18,174.70 L318.04,175.03 L319.90,175.37 L321.76,175.71 L323.61,176.05 L325.47,176.40 L327.33,176.75 L329.19,177.10 L331.05,177.46 L332.91,177.82 L334.77,178.18 L336.62,178.55 L338.48,178.92 L340.34,179.29 L342.20,179.67 L344.06,180.05 L345.92,180.43 L347.77,180.82 L349.63,181.22 L351.49,181.62 L353.35,182.02 L355.21,182.42 L357.07,182.84 L358.92,183.25 L360.78,183.67 L362.64,184.10 L364.50,184.53" stroke="#0000ee" stroke-width="2.4" fill="none" stroke-dasharray="3.8 4.2"/>
<path d="M199.1,172.2 L368.5,151.4" stroke="#ee0000" stroke-width="2.3" fill="none"/>
<path d="M199.70,144.25 L201.49,144.54 L203.27,144.84 L205.06,145.16 L206.84,145.50 L208.63,145.85 L210.41,146.22 L212.20,146.60 M217.50,147.91 L219.37,148.41 L221.24,148.91 L223.11,149.37 L224.99,149.80 L226.86,150.21 L228.73,150.61 L230.60,151.00 M236.50,152.18 L238.37,152.54 L240.24,152.89 L242.11,153.22 L243.99,153.56 L245.86,153.89 L247.73,154.21 L249.60,154.54 M255.50,155.50 L257.29,155.76 L259.07,156.01 L260.86,156.25 L262.64,156.46 L264.43,156.69 L266.21,156.91 L268.00,157.14 M274.00,157.84 L276.39,158.05 L278.77,158.21 L281.16,158.29 L283.54,158.30 L285.93,158.28 L288.31,158.25 L290.70,158.21 M297.20,157.87 L298.99,157.72 L300.77,157.56 L302.56,157.40 L304.34,157.25 L306.13,157.10 L307.91,156.94 L309.70,156.77 M316.20,156.13 L317.99,155.95 L319.77,155.77 L321.56,155.59 L323.34,155.40 L325.13,155.22 L326.91,155.04 L328.70,154.85 M335.20,154.16 L336.99,153.97 L338.77,153.78 L340.56,153.59 L342.34,153.40 L344.13,153.21 L345.91,153.02 L347.70,152.83 M354.20,152.14 L356.16,151.93 L358.11,151.71 L360.07,151.49 L362.03,151.25 L363.99,151.01 L365.94,150.77 L367.90,150.51" stroke="#00e800" stroke-width="2.6" fill="none"/>
<!-- labels -->
<g fill="#000" opacity="0.999">
<text transform="matrix(0.2781,0,-0.0000,0.2578,59.58,27.44)" font-size="100"   xml:space="preserve">3.0</text>
<text transform="matrix(0.2678,0,-0.0000,0.2546,59.69,101.92)" font-size="100"   xml:space="preserve">2.5</text>
<text transform="matrix(0.2775,0,-0.0000,0.2537,59.35,178.97)" font-size="100"   xml:space="preserve">2.0</text>
<text transform="matrix(0.2539,0,-0.0000,0.2593,60.78,255.41)" font-size="100"   xml:space="preserve">1.5</text>
<text transform="matrix(0.2667,0,-0.0000,0.2574,60.67,332.21)" font-size="100"   xml:space="preserve">1.0</text>
<text transform="matrix(0.2661,0,-0.0000,0.2500,59.90,409.62)" font-size="100"   xml:space="preserve">0.5</text>
<text transform="matrix(0.2800,0,-0.0000,0.2519,91.85,499.95)" font-size="100"   xml:space="preserve">0</text>
<text transform="matrix(0.2661,0,-0.0000,0.2500,200.50,499.82)" font-size="100"   xml:space="preserve">0.5</text>
<text transform="matrix(0.2604,0,-0.0000,0.2500,319.42,499.82)" font-size="100"   xml:space="preserve">1.0</text>
<text transform="matrix(0.2530,0,-0.0000,0.2519,438.09,499.82)" font-size="100"   xml:space="preserve">1.5</text>
<text transform="matrix(0.2749,0,-0.0000,0.2500,557.86,499.82)" font-size="100"   xml:space="preserve">2.0</text>
<text transform="matrix(0.2644,0,-0.0000,0.2509,676.31,499.82)" font-size="100"   xml:space="preserve">2.5</text>
<text transform="matrix(0.2747,0,-0.0000,0.2500,796.60,499.82)" font-size="100"   xml:space="preserve">3.0</text>
<text transform="matrix(0.3090,0,-0.0000,0.2551,104.51,47.48)" font-size="100"   xml:space="preserve">(b)</text>
<text transform="matrix(0.3126,0,-0.0000,0.2575,137.69,85.03)" font-size="100"   xml:space="preserve">ξ</text>
<text transform="matrix(0.3462,0,-0.0000,0.2240,150.07,83.25)" font-size="100"   xml:space="preserve">=</text>
<text transform="matrix(0.3122,0,-0.0000,0.2737,167.63,85.74)" font-size="100"   xml:space="preserve">∞</text>
<text transform="matrix(0.2972,0,-0.0000,0.2437,204.29,84.36)" font-size="100"   xml:space="preserve">θ=15°</text>
<text transform="matrix(0.3836,0,-0.0000,0.2432,754.75,505.00)" font-size="100" font-style="italic" stroke="#000" stroke-width="0.7" vector-effect="non-scaling-stroke" stroke-linejoin="round" xml:space="preserve">k</text>
<text transform="matrix(0.4265,0,-0.0000,0.2574,749.30,533.50)" font-size="100" font-style="italic" stroke="#000" stroke-width="0.7" vector-effect="non-scaling-stroke" stroke-linejoin="round" xml:space="preserve">m</text>
<path d="M748.7,512.9 H780.2" stroke="#000" stroke-width="1.9"/>
<text transform="matrix(0,-0.2627,0.2979,0.0657,24.60,88.22)" font-size="100" font-style="italic" stroke="#000" stroke-width="0.7" vector-effect="non-scaling-stroke" stroke-linejoin="round" xml:space="preserve">ω</text>
<text transform="matrix(0,-0.3346,0.2957,0.0000,54.90,88.85)" font-size="100" font-style="italic" stroke="#000" stroke-width="0.7" vector-effect="non-scaling-stroke" stroke-linejoin="round" xml:space="preserve">m</text>
<path d="M32.7,63.9 V89.1" stroke="#000" stroke-width="2"/>
<text transform="matrix(0,-0.2933,0.1825,0.0000,32.67,61.80)" font-size="100"   xml:space="preserve">,</text>
<text transform="matrix(0,-0.2999,0.2751,0.0750,23.95,47.19)" font-size="100" font-style="italic" stroke="#000" stroke-width="0.7" vector-effect="non-scaling-stroke" stroke-linejoin="round" xml:space="preserve">γ</text>
<text transform="matrix(0,-0.3798,0.2957,0.0000,54.90,52.42)" font-size="100" font-style="italic" stroke="#000" stroke-width="0.7" vector-effect="non-scaling-stroke" stroke-linejoin="round" xml:space="preserve">m</text>
<path d="M32.7,24.8 V52.1" stroke="#000" stroke-width="2"/>
</g>
</svg>
</body></html>
